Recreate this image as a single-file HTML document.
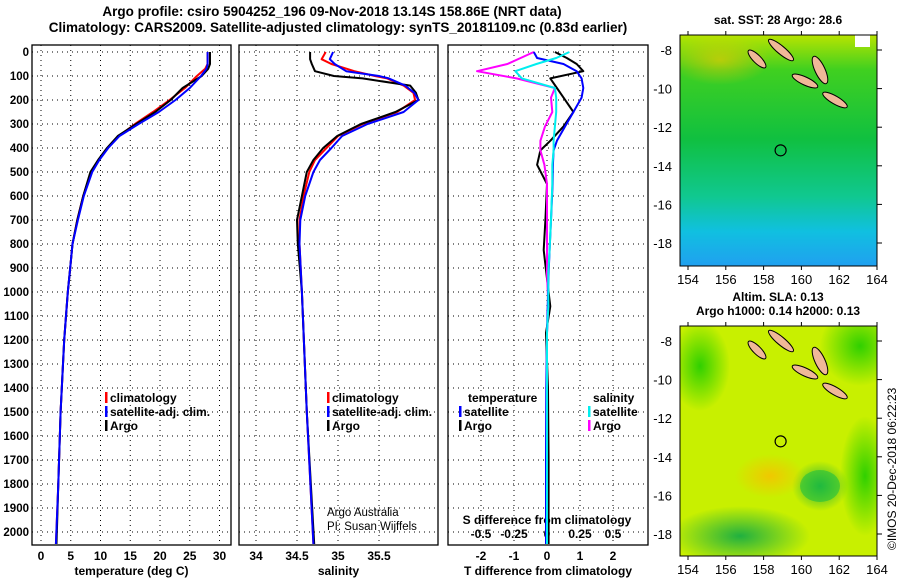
<!DOCTYPE html>
<html><head><meta charset="utf-8">
<style>
body{margin:0;background:#fff}
svg{display:block;font-family:"Liberation Sans",sans-serif;font-weight:bold}
</style></head>
<body>
<svg id="c" width="900" height="580" viewBox="0 0 900 580" xmlns="http://www.w3.org/2000/svg">
<defs>
<linearGradient id="sstg" x1="0" y1="0" x2="0" y2="1">
<stop offset="0" stop-color="#b8e400"/><stop offset="0.15" stop-color="#40d020"/><stop offset="0.45" stop-color="#10c040"/><stop offset="0.7" stop-color="#10c890"/><stop offset="0.85" stop-color="#10c0e0"/><stop offset="1" stop-color="#20a0f0"/>
</linearGradient>
<radialGradient id="bl1"><stop offset="0" stop-color="#20b040"/><stop offset="1" stop-color="#20b040" stop-opacity="0"/></radialGradient>
<radialGradient id="or1"><stop offset="0" stop-color="#f0c800"/><stop offset="1" stop-color="#f0c800" stop-opacity="0"/></radialGradient>
<radialGradient id="gr1"><stop offset="0" stop-color="#30d000"/><stop offset="1" stop-color="#30d000" stop-opacity="0"/></radialGradient>
<clipPath id="clipTop"><rect x="680" y="35" width="197" height="231"/></clipPath>
<clipPath id="clipBot"><rect x="680" y="326" width="197" height="230"/></clipPath>
</defs>
<g id="root"></g>
</svg>
<script>
// ---- data ----
const tDepth = [0,50,70,100,150,200,250,300,350,400,450,500,600,700,800,900,1000,1200,1500,1800,2050];
const tArgo  = [28.4,28.4,28.1,27.0,23.8,21.8,19.2,16.0,12.9,11.1,9.6,8.3,7.1,6.1,5.3,4.9,4.5,3.9,3.3,2.9,2.6];
const tClim  = [28.0,28.0,27.6,26.2,24.2,21.6,18.8,15.8,13.1,11.2,9.7,8.4,7.1,6.1,5.3,4.9,4.5,3.9,3.3,2.9,2.5];
const tSat   = [28.0,28.0,27.8,26.9,25.0,22.6,19.8,16.4,13.2,11.3,9.8,8.6,7.2,6.2,5.3,4.9,4.5,3.9,3.3,2.9,2.5];
const sDepth = [0,30,50,80,100,110,140,170,200,250,300,350,400,450,500,600,700,800,1000,1500,2050];
const sArgo  = [34.66,34.66,34.68,34.72,34.95,35.3,35.88,35.95,35.98,35.7,35.28,34.99,34.82,34.7,34.62,34.56,34.5,34.51,34.56,34.62,34.71];
const sClim  = [34.85,34.8,34.92,35.2,35.45,35.6,35.8,35.92,35.94,35.72,35.3,35.0,34.86,34.72,34.65,34.58,34.53,34.53,34.56,34.62,34.7];
const sSat   = [34.94,34.9,34.96,35.1,35.5,35.62,35.82,35.93,35.98,35.8,35.36,35.05,34.92,34.78,34.7,34.6,34.54,34.53,34.56,34.62,34.7];
const dDepth = [0,25,50,80,110,150,190,250,310,370,410,470,550,700,825,920,1060,1170,1400,1700,2050];
const dTArgo = [0.24,0.6,0.9,1.1,0.1,0.3,0.5,0.8,0.5,0.1,-0.2,-0.3,0.0,-0.05,-0.1,-0.02,0.1,-0.03,0.03,0.05,0.05];
const dTSat  = [-0.4,-0.3,0.5,0.9,1.05,1.1,1.05,0.8,0.55,0.3,0.2,0.18,0.17,0.12,0.08,0.05,0.02,0.0,-0.02,-0.03,-0.03];
const dSArgo = [-0.1,-0.2,-0.3,-0.53,-0.23,0.06,0.03,0.04,-0.015,-0.05,-0.05,-0.02,0.0,0.0,0.0,0.0,0.01,0.0,0.0,0.0,0.0];
const dSSat  = [0.17,0.07,-0.08,-0.24,-0.19,0.06,0.07,0.07,0.06,0.05,0.05,0.04,0.04,0.03,0.02,0.01,0.01,0.0,0.0,0.0,0.0];
const depthTicks = [0,100,200,300,400,500,600,700,800,900,1000,1100,1200,1300,1400,1500,1600,1700,1800,1900,2000];
const tTicks = [0,5,10,15,20,25,30];
const sTicks = [34,34.5,35,35.5];
const dTTicks = [-2,-1,0,1,2];
const dSTicks = [-0.5,-0.25,0,0.25,0.5];
const latTicks = [-8,-10,-12,-14,-16,-18];
const lonTicks = [154,156,158,160,162,164];
const argoLon = [158.9], argoLat = [-13.2];

const NS='http://www.w3.org/2000/svg';
const root=document.getElementById('root');
function el(tag,attrs,parent,txt){const e=document.createElementNS(NS,tag);for(const k in attrs)e.setAttribute(k,attrs[k]);if(txt!==undefined)e.textContent=txt;(parent||root).appendChild(e);return e;}
const Y=d=>52+d*0.24;
const PB=545;
const panels=[
 {name:'temperature-panel',x0:32,x1:231,sc:v=>41+v*5.95,ticks:tTicks,lab:'temperature (deg C)'},
 {name:'salinity-panel',x0:239,x1:438,sc:v=>297+(v-34.5)*82,ticks:sTicks,lab:'salinity'},
 {name:'difference-panel',x0:448,x1:648,sc:v=>547+v*33,ticks:dTTicks,lab:'T difference from climatology'}
];
const top0=45;
panels.forEach((p,i)=>{
 const g=el('g',{});
 
 depthTicks.forEach(d=>{const l=el('line',{x1:p.x0,x2:p.x1,y1:Y(d),y2:Y(d),stroke:'#000','stroke-width':1,'stroke-dasharray':'1,4'},g);});
 p.ticks.forEach(t=>{const x=p.sc(t);const l=el('line',{x1:x,x2:x,y1:top0,y2:PB,stroke:'#000','stroke-width':1,'stroke-dasharray':'1,4'},g);
   const tx=el('text',{x:x,y:560,'text-anchor':'middle','font-size':12},g,String(t));});
 const fr=el('rect',{x:p.x0,y:top0,width:p.x1-p.x0,height:PB-top0,fill:'none',stroke:'#000','stroke-width':1.3},g);
 
 const xl=el('text',{x:(p.x0+p.x1)/2,y:575,'text-anchor':'middle','font-size':12},g,p.lab);
 
});
depthTicks.forEach(d=>{const t=el('text',{x:29,y:Y(d)+4,'text-anchor':'end','font-size':11.5},root,String(d));});
const sdx=v=>547+v*132;
dSTicks.forEach(t=>{const tx=el('text',{x:sdx(t),y:538,'text-anchor':'middle','font-size':12},root,String(t));});
const sdl=el('text',{x:547,y:524,'text-anchor':'middle','font-size':12},root,'S difference from climatology');

function line(depths,vals,sc,color,name,w){
 const pts=depths.map((d,i)=>sc(vals[i]).toFixed(1)+','+Y(Math.min(d,2050)).toFixed(1)).join(' ');
 const pl=el('polyline',{points:pts,fill:'none',stroke:color,'stroke-width':w||2,'stroke-linejoin':'round'});
 
}
const pT=panels[0].sc,pS=panels[1].sc,pD=panels[2].sc;
line(tDepth,tClim,pT,'#f00','temp-climatology-line');
line(tDepth,tArgo,pT,'#000','temp-argo-line');
line(tDepth,tSat,pT,'#00f','temp-satellite-line');
line(sDepth,sClim,pS,'#f00','sal-climatology-line');
line(sDepth,sArgo,pS,'#000','sal-argo-line');
line(sDepth,sSat,pS,'#00f','sal-satellite-line');
line(dDepth,dTArgo,pD,'#000','tdiff-argo-line');
line(dDepth,dSArgo,sdx,'#f0f','sdiff-argo-line');
line(dDepth,dTSat,pD,'#00f','tdiff-satellite-line');
line(dDepth,dSSat,sdx,'#0ee','sdiff-satellite-line');
function leg(x,y,color,label,name){const g=el('g',{});
 el('rect',{x:x,y:y-9,width:2.5,height:11,fill:color},g);el('text',{x:x+5,y:y+1,'font-size':12},g,label);}
leg(105,401,'#f00','climatology','legend-climatology');
leg(105,415,'#00f','satellite-adj. clim.','legend-satellite-adj');
leg(105,429,'#000','Argo','legend-argo');
leg(327,401,'#f00','climatology','legend-climatology-sal');
leg(327,415,'#00f','satellite-adj. clim.','legend-satellite-adj-sal');
leg(327,429,'#000','Argo','legend-argo-sal');
const lt=el('text',{x:468,y:402,'font-size':12},root,'temperature');
const ls=el('text',{x:593,y:402,'font-size':12},root,'salinity');
leg(459,415,'#00f','satellite','legend-t-satellite');
leg(459,429,'#000','Argo','legend-t-argo');
leg(588,415,'#0ee','satellite','legend-s-satellite');
leg(588,429,'#f0f','Argo','legend-s-argo');
const a1=el('text',{x:327,y:516,'font-size':11.5,'font-weight':'normal'},root,'Argo Australia');
const a2=el('text',{x:327,y:530,'font-size':11.5,'font-weight':'normal'},root,'PI: Susan Wijffels');
const t1=el('text',{x:332,y:16,'text-anchor':'middle','font-size':13.5},root,'Argo profile: csiro 5904252_196 09-Nov-2018 13.14S 158.86E (NRT data)');
const t2=el('text',{x:338,y:32,'text-anchor':'middle','font-size':13.5},root,'Climatology: CARS2009. Satellite-adjusted climatology: synTS_20181109.nc (0.83d earlier)');
const lonX=l=>688+(l-154)*18.9;
const islands=[[781,50,16,4,40],[757,59,12,4,45],[805,81,14,4,25],[820,70,5,15,-25],[835,100,14,4,30]];
function map(y0,y1,kind,name,clip){
 const g=el('g',{});
 const b=el('g',{'clip-path':`url(#${clip})`},g);
 if(kind==='sst'){el('rect',{x:680,y:y0,width:197,height:y1-y0,fill:'url(#sstg)'},b);
  el('ellipse',{cx:720,cy:y0+25,rx:50,ry:25,fill:'url(#or1)',opacity:0.6},b);
  el('rect',{x:855,y:y0,width:15,height:12,fill:'#fff'},b);
 } else {
  el('rect',{x:680,y:y0,width:197,height:y1-y0,fill:'#c8f000'},b);
  el('ellipse',{cx:700,cy:y0+40,rx:30,ry:45,fill:'url(#gr1)'},b);
  el('ellipse',{cx:860,cy:y0+20,rx:40,ry:40,fill:'url(#gr1)'},b);
  el('ellipse',{cx:820,cy:y0+160,rx:28,ry:25,fill:'url(#bl1)'},b);
  el('ellipse',{cx:820,cy:y0+160,rx:20,ry:16,fill:'#20c040',opacity:0.6},b);
  el('ellipse',{cx:770,cy:y0+150,rx:35,ry:22,fill:'url(#or1)'},b);
  el('ellipse',{cx:740,cy:y0+210,rx:70,ry:30,fill:'url(#bl1)'},b);
  el('ellipse',{cx:865,cy:y0+150,rx:25,ry:60,fill:'url(#gr1)'},b);
 }
 islands.forEach(s=>{const e=el('ellipse',{cx:s[0],cy:s[1]+(y0-35),rx:s[2],ry:s[3],fill:'#f0b898',stroke:'#000','stroke-width':1,transform:`rotate(${s[4]} ${s[0]} ${s[1]+(y0-35)})`},b);});
 el('rect',{x:680,y:y0,width:197,height:y1-y0,fill:'none',stroke:'#000','stroke-width':1},g);
 latTicks.forEach(l=>{const y=y0+15+(-8-l)*19.3;if(y>y1)return;
  el('line',{x1:877,x2:882,y1:y,y2:y,stroke:'#000'},g);
  const t=el('text',{x:672,y:y+5,'text-anchor':'end','font-size':13,'font-weight':'normal'},g,String(l));});
 lonTicks.forEach(l=>{const x=lonX(l);el('line',{x1:x,x2:x,y1:y0-4,y2:y0,stroke:'#000'},g);el('line',{x1:x,x2:x,y1:y1,y2:y1+4,stroke:'#000'},g);
  const t=el('text',{x:x,y:y1+18,'text-anchor':'middle','font-size':13,'font-weight':'normal'},g,String(l));});
 const c=el('circle',{cx:lonX(argoLon[0]),cy:y0+15+(-8-argoLat[0])*19.3,r:5.5,fill:'none',stroke:'#000','stroke-width':1.2},g);
 
}
map(35,266,'sst','sst-map','clipTop');
map(326,556,'sla','sla-map','clipBot');
const m1=el('text',{x:778,y:24,'text-anchor':'middle','font-size':12},root,'sat. SST: 28 Argo: 28.6');
const m2=el('text',{x:778,y:301,'text-anchor':'middle','font-size':12},root,'Altim. SLA: 0.13');
const m3=el('text',{x:778,y:315,'text-anchor':'middle','font-size':12},root,'Argo h1000: 0.14 h2000: 0.13');
const cr=el('text',{x:0,y:0,'font-size':12,'font-weight':'normal',transform:'translate(896,550) rotate(-90)'},root,'©IMOS 20-Dec-2018 06:22:23');
</script>
</body></html>
